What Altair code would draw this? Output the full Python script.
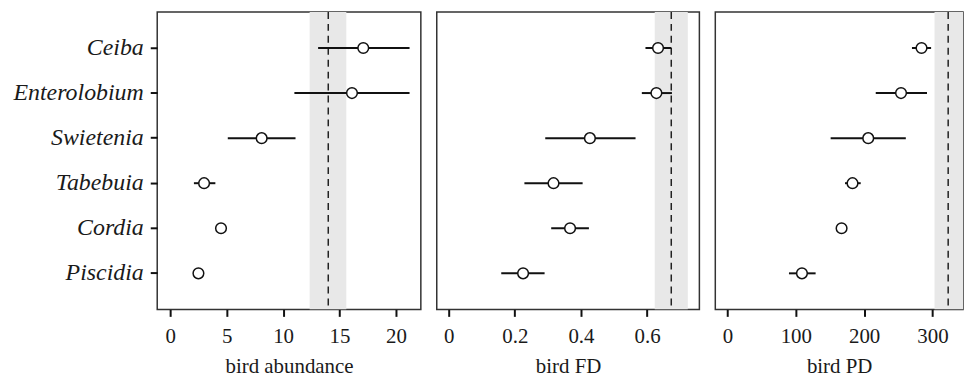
import altair as alt
import pandas as pd

species = ["Ceiba", "Enterolobium", "Swietenia", "Tabebuia", "Cordia", "Piscidia"]

abund_mean = [17.1, 16.1, 8.1, 3.0, 4.5, 2.5]
abund_lo = [13.1, 11.0, 5.1, 2.1, 4.4, 2.4]
abund_hi = [21.2, 21.2, 11.1, 4.0, 4.6, 2.6]

fd_mean = [0.633, 0.628, 0.427, 0.317, 0.367, 0.225]
fd_lo = [0.595, 0.584, 0.292, 0.229, 0.310, 0.159]
fd_hi = [0.673, 0.675, 0.565, 0.405, 0.424, 0.290]

pd_mean = [284, 254, 206, 183, 167, 109]
pd_lo = [270, 217, 151, 172, 165, 90]
pd_hi = [298, 292, 261, 195, 169, 129]

# null model expectation (dashed line) and its range (grey band)
null_abund = [14.0, 12.35, 15.6]
null_fd = [0.673, 0.623, 0.723]
null_pd = [323, 303, 345]

FONT = "Liberation Serif"


def panel(mean, lo, hi, null, title, domain, ticks, width, show_y, label_expr=None):
    df = pd.DataFrame({"species": species, "mean": mean, "lo": lo, "hi": hi})
    nd = pd.DataFrame({"m": [null[0]], "a": [null[1]], "b": [null[2]]})
    xscale = alt.Scale(domain=domain, nice=False, zero=False)
    axis_kw = dict(values=ticks, title=title, labelFont=FONT, titleFont=FONT,
                   labelFontSize=21, titleFontSize=21)
    if label_expr:
        axis_kw["labelExpr"] = label_expr
    xaxis = alt.Axis(**axis_kw)
    if show_y:
        yaxis = alt.Axis(title=None, labelFont=FONT, labelFontStyle="italic",
                         labelFontSize=24, labelPadding=7, tickSize=7)
    else:
        yaxis = None
    yenc = alt.Y("species:N", sort=species, scale=alt.Scale(padding=0.6), axis=yaxis)

    band = alt.Chart(nd).mark_rect(color="#e8e8e8", clip=True).encode(
        x=alt.X("a:Q", scale=xscale, axis=xaxis), x2="b:Q")
    dash = alt.Chart(nd).mark_rule(color="#222", strokeDash=[7, 5], strokeWidth=1.5).encode(
        x=alt.X("m:Q", scale=xscale))
    bars = alt.Chart(df).mark_rule(color="#111", strokeWidth=2).encode(
        x=alt.X("lo:Q", scale=xscale), x2="hi:Q", y=yenc)
    pts = alt.Chart(df).mark_point(shape="circle", size=115, filled=True, fill="white",
                                   stroke="#111", strokeWidth=1.5, opacity=1).encode(
        x=alt.X("mean:Q", scale=xscale), y=yenc)
    return alt.layer(band, dash, bars, pts).properties(width=width, height=299)


p1 = panel(abund_mean, abund_lo, abund_hi, null_abund, "bird abundance",
           [-1.15, 22.2], [0, 5, 10, 15, 20], 265, True)
p2 = panel(fd_mean, fd_lo, fd_hi, null_fd, "bird FD",
           [-0.036, 0.758], [0, 0.2, 0.4, 0.6], 264, False,
           "datum.value == 0 ? '0' : format(datum.value, '.1f')")
p3 = panel(pd_mean, pd_lo, pd_hi, null_pd, "bird PD",
           [-17.8, 344.7], [0, 100, 200, 300], 249, False)

chart = alt.hconcat(p1, p2, p3, spacing=14).resolve_scale(x="independent").properties(
    padding={"left": 4, "right": 0, "top": 1, "bottom": 0}
).configure(font=FONT).configure_view(
    stroke="#333", strokeWidth=1.5
).configure_axis(
    grid=False, domain=False, tickColor="#111", tickWidth=2, tickSize=7,
    labelFont=FONT, titleFont=FONT, labelFontSize=21, titleFontSize=21,
    labelColor="#1a1a1a", titleColor="#1a1a1a", titleFontWeight="normal",
    labelPadding=9, titlePadding=9
)

chart.save("out.html", embed_options={"renderer": "svg", "actions": False})
